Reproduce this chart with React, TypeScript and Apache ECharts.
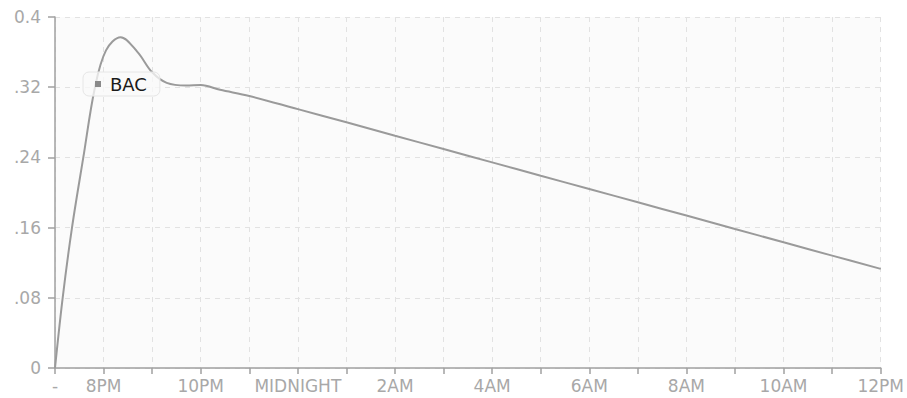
import React, { useEffect, useRef } from "react";
import * as echarts from "echarts";

const xTickLabels = ["-", "8PM", "", "10PM", "", "MIDNIGHT", "", "2AM", "", "4AM", "", "6AM", "", "8AM", "", "10AM", "", "12PM"];
const hours = [0, 0.158, 0.35, 0.583, 0.823, 1.05, 1.35, 1.7, 2.0, 2.3, 2.7, 3.0, 3.4, 4, 5, 6, 7, 8, 9, 10, 11, 12, 13, 14, 15, 16, 17];
const bac = [0, 0.08, 0.16, 0.24, 0.32, 0.362, 0.377, 0.36, 0.337, 0.325, 0.322, 0.3225, 0.317, 0.31, 0.295, 0.28, 0.2647, 0.2495, 0.2343, 0.2191, 0.204, 0.1888, 0.1737, 0.1584, 0.1433, 0.1281, 0.113];
const seriesName = "BAC";

export default function App() {
  const ref = useRef<HTMLDivElement>(null);
  useEffect(() => {
    if (!ref.current) return;
    const chart = echarts.init(ref.current, undefined, { renderer: "svg" });
    const font = "DejaVu Sans";
    chart.setOption({
      animation: false,
      backgroundColor: "#ffffff",
      grid: { left: 55, right: 26, top: 17, bottom: 30, show: true, backgroundColor: "#fbfbfb", borderWidth: 0 },
      legend: {
        data: [{ name: seriesName, icon: "rect" }],
        left: 83,
        top: 72,
        orient: "horizontal",
        itemWidth: 6,
        itemHeight: 6,
        padding: [3, 13, 3, 12],
        backgroundColor: "rgba(250,250,250,0.75)",
        borderColor: "#e6e6e6",
        borderWidth: 1,
        borderRadius: 6,
        textStyle: { fontFamily: font, fontSize: 18, color: "#1a1a1a", padding: [0, 0, 0, 4] },
        itemStyle: { color: "#8a8a8a" },
      },
      xAxis: {
        type: "value",
        min: 0,
        max: 17,
        interval: 1,
        axisLine: { show: true, lineStyle: { color: "#a0a0a0", width: 1.5 } },
        axisTick: { show: true, length: 6, lineStyle: { color: "#a0a0a0", width: 1.5 } },
        axisLabel: {
          fontFamily: font,
          fontSize: 17,
          color: "#a8a8a8",
          margin: 9,
          showMaxLabel: true,
          showMinLabel: true,
          formatter: (v: number) => xTickLabels[Math.round(v)] ?? "",
        },
        splitLine: { show: true, lineStyle: { color: "#e2e2e2", type: [5, 5], width: 1 } },
      },
      yAxis: {
        type: "value",
        min: 0,
        max: 0.4,
        interval: 0.08,
        axisLine: { show: true, lineStyle: { color: "#a0a0a0", width: 1.5 } },
        axisTick: { show: true, length: 7, lineStyle: { color: "#a0a0a0", width: 1.5 } },
        axisLabel: {
          fontFamily: font,
          fontSize: 17,
          color: "#a8a8a8",
          margin: 14,
          formatter: (v: number) => {
            if (v === 0) return "0";
            if (v >= 0.399) return "0.4";
            return v.toFixed(2).replace(/^0/, "");
          },
        },
        splitLine: { show: true, lineStyle: { color: "#e2e2e2", type: [5, 5], width: 1 } },
      },
      series: [
        {
          name: seriesName,
          type: "line",
          data: hours.map((h, i) => [h, bac[i]]),
          smooth: 0.35,
          showSymbol: false,
          symbol: "none",
          lineStyle: { color: "#9a9a9a", width: 2 },
          itemStyle: { color: "#8a8a8a" },
        },
      ],
    });
    return () => chart.dispose();
  }, []);
  return <div ref={ref} style={{ width: 907, height: 398, position: "absolute", left: 0, top: 0 }} />;
}
